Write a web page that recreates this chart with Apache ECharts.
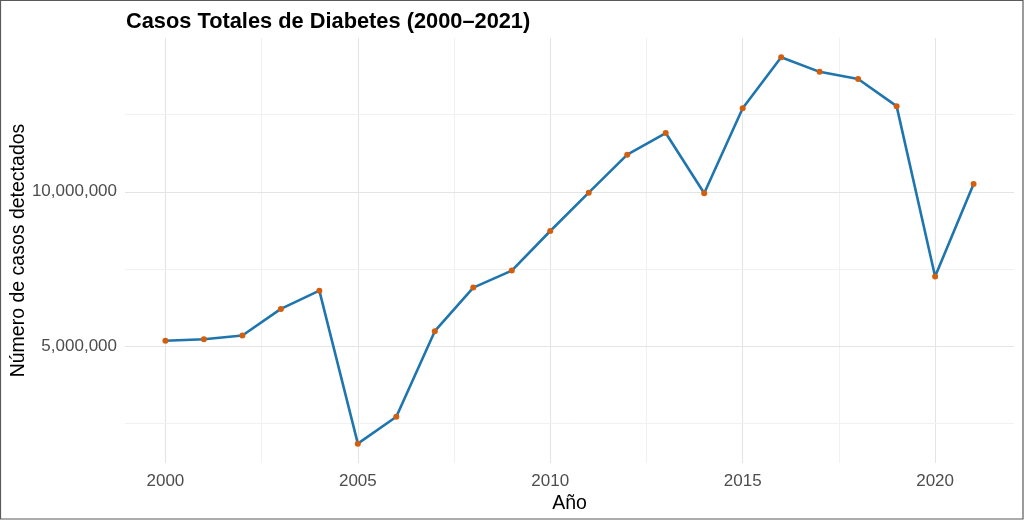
<!DOCTYPE html>
<html>
<head>
<meta charset="utf-8">
<script src="https://cdn.jsdelivr.net/npm/echarts@6/dist/echarts.min.js"></script>
<style>
html,body{margin:0;padding:0;background:#fff;}
#chart{width:1024px;height:520px;}
</style>
</head>
<body>
<div id="chart"></div>
<script>
// Data
const years = [2000,2001,2002,2003,2004,2005,2006,2007,2008,2009,2010,2011,2012,2013,2014,2015,2016,2017,2018,2019,2020,2021];
const casos = [5180000,5230000,5350000,6210000,6800000,1850000,2720000,5490000,6900000,7450000,8730000,9970000,11200000,11900000,9950000,12700000,14350000,13880000,13650000,12770000,7260000,10250000];

// Tick labels and grid positions
const xMajorTicks = [2000,2005,2010,2015,2020];
const xMinorTicks = [2002.5,2007.5,2012.5,2017.5];
const yMajorTicks = [5000000,10000000];
const yMinorTicks = [2500000,7500000,12500000];

const FONT = '"Liberation Sans", Arial, sans-serif';
const chart = echarts.init(document.getElementById('chart'), null, {renderer:'canvas'});

// ggplot-style 5% expansion of data range
const yMinData = Math.min.apply(null, casos), yMaxData = Math.max.apply(null, casos);
const yPad = (yMaxData - yMinData) * 0.05;
const xMinData = years[0], xMaxData = years[years.length-1];
const xPad = (xMaxData - xMinData) * 0.05;

const gridLines = []
  .concat(xMajorTicks.map(v => ({xAxis: v, lineStyle:{color:'#e4e4e4', width:1.1, type:'solid'}})))
  .concat(xMinorTicks.map(v => ({xAxis: v, lineStyle:{color:'#f1f1f1', width:1, type:'solid'}})))
  .concat(yMajorTicks.map(v => ({yAxis: v, lineStyle:{color:'#e4e4e4', width:1.1, type:'solid'}})))
  .concat(yMinorTicks.map(v => ({yAxis: v, lineStyle:{color:'#f1f1f1', width:1, type:'solid'}})));

const pts = years.map((y,i) => [y, casos[i]]);

chart.setOption({
  animation: false,
  backgroundColor: '#ffffff',
  textStyle: {fontFamily: FONT},
  title: {
    text: 'Casos Totales de Diabetes (2000\u20132021)',
    left: 126, top: 11, padding: 0,
    textStyle: {fontFamily: FONT, fontSize: 21.8, fontWeight: 'bold', color: '#000000'}
  },
  graphic: [{
    type: 'rect', silent: true, z: 100,
    shape: {x: 0.5, y: 0.5, width: 1022.5, height: 518.5},
    style: {fill: 'none', stroke: '#5a5a5a', lineWidth: 1.2}
  }],
  grid: {left: 125, right: 10, top: 38, bottom: 57, containLabel: false, outerBoundsMode: 'none'},
  xAxis: {
    type: 'value',
    min: xMinData - xPad, max: xMaxData + xPad,
    name: 'Año', nameLocation: 'middle', nameGap: 31, nameMoveOverlap: false,
    nameTextStyle: {fontFamily: FONT, fontSize: 19.5, color: '#000000'},
    axisLine: {show: false}, axisTick: {show: false},
    splitLine: {show: false},
    axisLabel: {
      customValues: xMajorTicks,
      fontFamily: FONT, fontSize: 17, color: '#4d4d4d', margin: 10,
      formatter: v => String(v)
    }
  },
  yAxis: {
    type: 'value',
    min: yMinData - yPad, max: yMaxData + yPad,
    name: 'Número de casos detectados', nameLocation: 'middle', nameGap: 96, nameMoveOverlap: false,
    nameTextStyle: {fontFamily: FONT, fontSize: 19.5, color: '#000000'},
    axisLine: {show: false}, axisTick: {show: false},
    splitLine: {show: false},
    axisLabel: {
      customValues: yMajorTicks,
      fontFamily: FONT, fontSize: 17, color: '#4d4d4d', margin: 8,
      formatter: v => Number(v).toLocaleString('en-US')
    }
  },
  series: [
    {
      type: 'line', data: pts, z: 1, silent: true,
      showSymbol: false, lineStyle: {opacity: 0},
      markLine: {silent: true, symbol: ['none','none'], label: {show: false}, animation: false, data: gridLines}
    },
    {
      type: 'line', data: pts, z: 5,
      lineStyle: {color: '#1f75ad', width: 2.6},
      symbol: 'circle', symbolSize: 6,
      itemStyle: {color: '#d35f0e', borderWidth: 0}
    }
  ]
});
</script>
</body>
</html>
